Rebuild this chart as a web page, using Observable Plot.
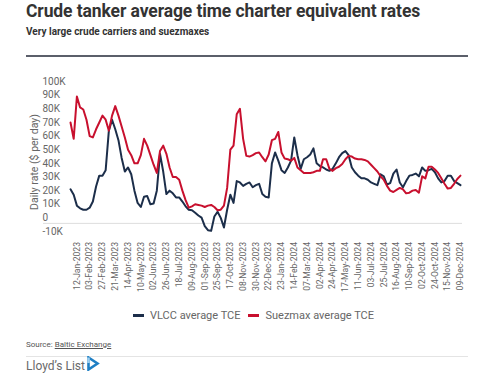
<!DOCTYPE html>
<html>
<head>
<meta charset="utf-8">
<script src="https://cdn.jsdelivr.net/npm/d3@7"></script>
<script src="https://cdn.jsdelivr.net/npm/@observablehq/plot@0.6"></script>
<style>
  html, body { margin: 0; padding: 0; background: #fff; }
  body { width: 500px; height: 388px; position: relative; overflow: hidden; font-family: Roboto, "Noto Sans", sans-serif; }
  #title { position: absolute; left: 26px; top: 1px; font-size: 17.5px; font-weight: 700; color: #333; white-space: nowrap; letter-spacing: -0.1px; }
  #subtitle { position: absolute; left: 26px; top: 26px; font-size: 10px; font-weight: 700; color: #333; white-space: nowrap; }
  #rule { position: absolute; left: 26px; top: 55px; width: 442px; height: 1.5px; background: #5b5f6a; }
  #chart { position: absolute; left: 0; top: 60px; }
  #legend { position: absolute; left: 133px; top: 309px; display: flex; align-items: center; font-size: 11px; color: #666; white-space: nowrap; }
  #legend .sw { display: inline-block; width: 11px; height: 2.5px; margin-right: 6px; }
  #legend .item { display: flex; align-items: center; margin-right: 8px; }
  #source { position: absolute; left: 26px; top: 340px; font-size: 8px; color: #555; white-space: nowrap; }
  #source u { color: #555; }
  #rule2 { position: absolute; left: 26px; top: 356px; width: 442px; height: 1px; background: #e4e4e4; }
  #logo { position: absolute; left: 26px; top: 359px; font-size: 12px; color: #6a6a6a; white-space: nowrap; display: flex; align-items: center; }
</style>
</head>
<body>
<div id="title">Crude tanker average time charter equivalent rates</div>
<div id="subtitle">Very large crude carriers and suezmaxes</div>
<div id="rule"></div>
<div id="chart"></div>
<div id="legend"></div>
<div id="source">Source: <u>Baltic Exchange</u></div>
<div id="rule2"></div>
<div id="logo"><span>Lloyd’s List</span><svg width="13" height="15" viewBox="0 0 13 15" style="margin-left:2px;margin-top:-6px"><path d="M1.5 1.5 L10.5 7.5 L1.5 13.5 Z" fill="none" stroke="#1f7fc4" stroke-width="2.6" stroke-linejoin="miter"/><path d="M1.5 1.5 L1.5 7" stroke="#9fd0ef" stroke-width="2.6"/></svg></div>
<script>
// Tick labels (one every 16 business days)
const tickLabels = [
  "12-Jan-2023","03-Feb-2023","27-Feb-2023","21-Mar-2023","14-Apr-2023","10-May-2023",
  "02-Jun-2023","26-Jun-2023","18-Jul-2023","09-Aug-2023","01-Sep-2023","25-Sep-2023",
  "17-Oct-2023","08-Nov-2023","30-Nov-2023","22-Dec-2023","23-Jan-2024","14-Feb-2024",
  "07-Mar-2024","02-Apr-2024","24-Apr-2024","17-May-2024","11-Jun-2024","03-Jul-2024",
  "25-Jul-2024","16-Aug-2024","10-Sep-2024","02-Oct-2024","24-Oct-2024","15-Nov-2024",
  "09-Dec-2024"
];
// Samples every 4 business days; first tick label falls on sample 2
const samplesPerLabel = 4;
const firstLabelSample = 2;

const seriesNames = ["VLCC average TCE", "Suezmax average TCE"];
const seriesColors = ["#1c2e4a", "#c8102e"];

// $K per day
const vlcc = [
  25, 21, 13, 11, 10, 10, 11.5, 16, 27, 35,
  35, 39, 68, 76, 69, 61, 48, 38, 41, 36,
  24, 15, 12, 19.5, 20, 14, 14.5, 24, 51, 38,
  21.5, 24, 22, 19, 19, 16, 12.5, 10, 9.6, 7.8,
  5.8, 4.2, -2, -5, -5.5, 5, 8.5, 4, -3, 10,
  21, 15, 31, 30, 27.5, 29, 30, 26.5, 28, 29,
  21.5, 19.5, 19, 44, 52, 46, 39, 37, 41, 46,
  63, 50, 40, 47, 48.5, 50.5, 55, 44, 42, 41,
  39.5, 38.5, 40, 44, 48.5, 51.5, 53, 50, 41, 37.5,
  35, 33, 33, 32, 30, 29, 28, 36, 34.5, 28.5,
  29.5, 36.5, 39.5, 30, 26.5, 31, 35, 35.5, 36.5, 34.5,
  41, 38.5, 39, 40, 37.5, 33, 30, 31, 35, 35,
  31, 29.5, 28
];
const suezmax = [
  74, 62, 93, 85, 83.5, 76, 64, 63, 69, 74,
  79, 76, 68, 79, 86, 79, 71, 63, 54, 50,
  44, 44, 50, 62, 57, 50, 43, 37, 53, 57,
  51, 41, 34, 34, 32, 24, 17, 11.5, 12.5, 14,
  13.5, 13, 12, 13, 13.5, 12, 9.6, 10, 13, 26,
  54, 57, 80, 84, 62, 49.5, 49, 50, 51.5, 52,
  48.5, 45.5, 50.5, 61, 62, 67, 52, 47.5, 47, 46,
  48, 41, 39, 37, 37, 37, 37.5, 38.5, 38.5, 47,
  47, 40, 38.5, 40.5, 41.5, 43.5, 47, 49.5, 49, 47.5,
  47, 47, 46.5, 45.5, 43, 40.5, 38, 34.5, 32, 27.5,
  24, 23, 24.5, 26, 25, 22, 22.5, 24, 24.5, 22.5,
  34.5, 33, 41.5, 41.5, 39.5, 37, 33, 29, 25.5, 26,
  29, 32.5, 35
];
const yTicks = [-10, 0, 10, 20, 30, 40, 50, 60, 70, 80, 90, 100];

const rows = [
  ...vlcc.map((v, k) => ({k, v, s: seriesNames[0]})),
  ...suezmax.map((v, k) => ({k, v, s: seriesNames[1]}))
];
const tickPos = tickLabels.map((_, j) => firstLabelSample + j * samplesPerLabel);

const chart = Plot.plot({
  width: 500,
  height: 240,
  marginTop: 26.5,
  marginBottom: 63.5,
  marginLeft: 70,
  marginRight: 40,
  style: {fontFamily: "Roboto, sans-serif", background: "transparent"},
  x: {domain: [0, vlcc.length - 1]},
  y: {domain: [-10, 100]},
  color: {domain: seriesNames, range: seriesColors},
  marks: [
    Plot.ruleY([0], {stroke: "#dddddd", strokeWidth: 1, insetLeft: -27, insetRight: -2}),
    Plot.axisY(yTicks, {
      tickSize: 0, textAnchor: "start", dx: -19, dy: -5.5,
      tickFormat: d => d === 0 ? "0" : d + "K",
      fill: "#666", fontSize: 10, label: null
    }),
    Plot.axisX(tickPos, {
      tickSize: 0, tickRotate: -90, tickPadding: 5,
      tickFormat: k => tickLabels[(k - firstLabelSample) / samplesPerLabel],
      fill: "#666", fontSize: 8.6, label: null
    }),
    Plot.text(["Daily rate ($ per day)"], {
      frameAnchor: "left", rotate: -90, dx: -36, textAnchor: "middle",
      fill: "#666", fontSize: 10.5
    }),
    Plot.line(rows, {x: "k", y: "v", z: "s", stroke: "s", strokeWidth: 2, strokeLinejoin: "round"})
  ]
});
document.getElementById("chart").appendChild(chart);

const legend = document.getElementById("legend");
seriesNames.forEach((name, i) => {
  const item = document.createElement("div");
  item.className = "item";
  const sw = document.createElement("span");
  sw.className = "sw";
  sw.style.background = seriesColors[i];
  const t = document.createElement("span");
  t.textContent = name;
  item.appendChild(sw);
  item.appendChild(t);
  legend.appendChild(item);
});
</script>
</body>
</html>
